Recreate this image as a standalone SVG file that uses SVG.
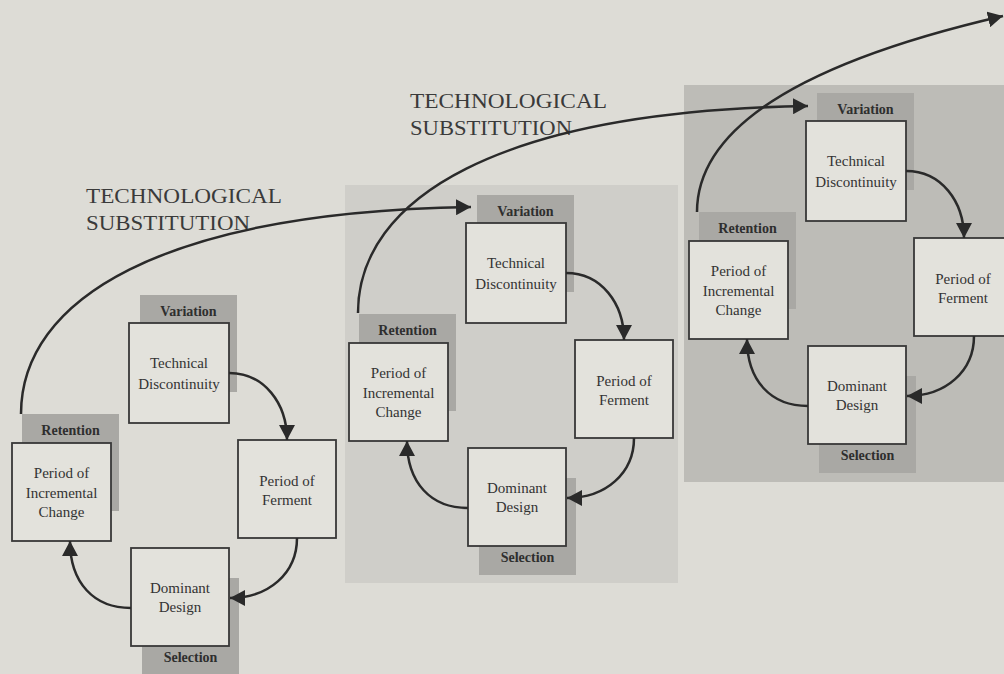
<svg xmlns="http://www.w3.org/2000/svg" width="1004" height="674" viewBox="0 0 1004 674">
  <defs>
    <style>
      .bg { fill: #dddcd6; }
      .panel2 { fill: #cfcec9; }
      .panel3 { fill: #bdbcb7; }
      .strip { fill: #a9a8a4; }
      .box { fill: #e3e2dc; stroke: #383838; stroke-width: 1.8; }
      .lbl { font-family: "Liberation Serif", "DejaVu Serif", serif; font-size: 14px; font-weight: bold; fill: #2e2e2e; text-anchor: middle; }
      .txt { font-family: "Liberation Serif", "DejaVu Serif", serif; font-size: 15px; fill: #333; text-anchor: middle; }
      .big { font-family: "Liberation Serif", "DejaVu Serif", serif; font-size: 20px; fill: #3a3a3a; }
      .arrow { fill: none; stroke: #2a2a2a; stroke-width: 2.5; marker-end: url(#head); }
    </style>
    <marker id="head" markerUnits="userSpaceOnUse" markerWidth="16" markerHeight="16" refX="15" refY="8" orient="auto">
      <path d="M0,0 L15,8 L0,16 Z" fill="#2a2a2a"/>
    </marker>
  </defs>

  <rect class="bg" x="0" y="0" width="1004" height="674"/>

  <!-- shaded panels behind the second and third cycles -->
  <rect class="panel2" x="345" y="185" width="333" height="398"/>
  <rect class="panel3" x="684" y="85" width="333" height="397"/>

  <!-- cycle 1 -->
  <g id="cycle1" transform="translate(129,323)">
    <g id="c1-discontinuity">
      <rect class="strip" x="11" y="-28" width="97" height="97"/>
      <text class="lbl" x="59.5" y="-7">Variation</text>
      <rect class="box" x="0" y="0" width="100" height="100"/>
      <text class="txt" x="50" y="45">Technical</text>
      <text class="txt" x="50" y="66">Discontinuity</text>
    </g>
    <g id="c1-ferment">
      <rect class="box" x="109" y="117" width="98" height="98"/>
      <text class="txt" x="158" y="163">Period of</text>
      <text class="txt" x="158" y="182">Ferment</text>
    </g>
    <g id="c1-dominant">
      <rect class="strip" x="13" y="255" width="97" height="97"/>
      <text class="lbl" x="61.5" y="339">Selection</text>
      <rect class="box" x="2" y="225" width="98" height="98"/>
      <text class="txt" x="51" y="270">Dominant</text>
      <text class="txt" x="51" y="289">Design</text>
    </g>
    <g id="c1-incremental">
      <rect class="strip" x="-107" y="91" width="97" height="97"/>
      <text class="lbl" x="-58.5" y="112">Retention</text>
      <rect class="box" x="-117" y="120" width="99" height="98"/>
      <text class="txt" x="-67.5" y="155">Period of</text>
      <text class="txt" x="-67.5" y="175">Incremental</text>
      <text class="txt" x="-67.5" y="194">Change</text>
    </g>
  </g>

  <!-- cycle 2 -->
  <g id="cycle2" transform="translate(466,223)">
    <g id="c2-discontinuity">
      <rect class="strip" x="11" y="-28" width="97" height="97"/>
      <text class="lbl" x="59.5" y="-7">Variation</text>
      <rect class="box" x="0" y="0" width="100" height="100"/>
      <text class="txt" x="50" y="45">Technical</text>
      <text class="txt" x="50" y="66">Discontinuity</text>
    </g>
    <g id="c2-ferment">
      <rect class="box" x="109" y="117" width="98" height="98"/>
      <text class="txt" x="158" y="163">Period of</text>
      <text class="txt" x="158" y="182">Ferment</text>
    </g>
    <g id="c2-dominant">
      <rect class="strip" x="13" y="255" width="97" height="97"/>
      <text class="lbl" x="61.5" y="339">Selection</text>
      <rect class="box" x="2" y="225" width="98" height="98"/>
      <text class="txt" x="51" y="270">Dominant</text>
      <text class="txt" x="51" y="289">Design</text>
    </g>
    <g id="c2-incremental">
      <rect class="strip" x="-107" y="91" width="97" height="97"/>
      <text class="lbl" x="-58.5" y="112">Retention</text>
      <rect class="box" x="-117" y="120" width="99" height="98"/>
      <text class="txt" x="-67.5" y="155">Period of</text>
      <text class="txt" x="-67.5" y="175">Incremental</text>
      <text class="txt" x="-67.5" y="194">Change</text>
    </g>
  </g>

  <!-- cycle 3 -->
  <g id="cycle3" transform="translate(806,121)">
    <g id="c3-discontinuity">
      <rect class="strip" x="11" y="-28" width="97" height="97"/>
      <text class="lbl" x="59.5" y="-7">Variation</text>
      <rect class="box" x="0" y="0" width="100" height="100"/>
      <text class="txt" x="50" y="45">Technical</text>
      <text class="txt" x="50" y="66">Discontinuity</text>
    </g>
    <g id="c3-ferment">
      <rect class="box" x="108" y="117" width="98" height="98"/>
      <text class="txt" x="157" y="163">Period of</text>
      <text class="txt" x="157" y="182">Ferment</text>
    </g>
    <g id="c3-dominant">
      <rect class="strip" x="13" y="255" width="97" height="97"/>
      <text class="lbl" x="61.5" y="339">Selection</text>
      <rect class="box" x="2" y="225" width="98" height="98"/>
      <text class="txt" x="51" y="270">Dominant</text>
      <text class="txt" x="51" y="289">Design</text>
    </g>
    <g id="c3-incremental">
      <rect class="strip" x="-107" y="91" width="97" height="97"/>
      <text class="lbl" x="-58.5" y="112">Retention</text>
      <rect class="box" x="-117" y="120" width="99" height="98"/>
      <text class="txt" x="-67.5" y="155">Period of</text>
      <text class="txt" x="-67.5" y="175">Incremental</text>
      <text class="txt" x="-67.5" y="194">Change</text>
    </g>
  </g>

  <!-- substitution labels -->
  <g id="labels">
    <text class="big" x="86" y="203" textLength="196" lengthAdjust="spacingAndGlyphs">TECHNOLOGICAL</text>
    <text class="big" x="86" y="230" textLength="164" lengthAdjust="spacingAndGlyphs">SUBSTITUTION</text>
    <text class="big" x="410" y="108" textLength="197" lengthAdjust="spacingAndGlyphs">TECHNOLOGICAL</text>
    <text class="big" x="410" y="135" textLength="162" lengthAdjust="spacingAndGlyphs">SUBSTITUTION</text>
  </g>

  <!-- connectors -->
  <g id="connectors">
    <g transform="translate(129,323)">
      <path class="arrow" d="M100,50 C135,50 158,80 158,117"/>
      <path class="arrow" d="M168,215 C168,250 140,275 101,275"/>
      <path class="arrow" d="M2,285 C-35,285 -59,260 -59,218"/>
    </g>
    <g transform="translate(466,223)">
      <path class="arrow" d="M100,50 C135,50 158,80 158,117"/>
      <path class="arrow" d="M168,215 C168,250 140,275 101,275"/>
      <path class="arrow" d="M2,285 C-35,285 -59,260 -59,218"/>
    </g>
    <g transform="translate(806,121)">
      <path class="arrow" d="M100,50 C135,50 158,80 158,117"/>
      <path class="arrow" d="M168,215 C168,250 140,275 101,275"/>
      <path class="arrow" d="M2,285 C-35,285 -59,260 -59,218"/>
    </g>
    <!-- technological substitution arcs -->
    <path class="arrow" d="M21,414 C21,300 160,212 471,207"/>
    <path class="arrow" d="M358,313 C358,199 497,111 808,106"/>
    <path class="arrow" d="M697,212 C697,138 778,68 1003,16"/>
  </g>
</svg>
